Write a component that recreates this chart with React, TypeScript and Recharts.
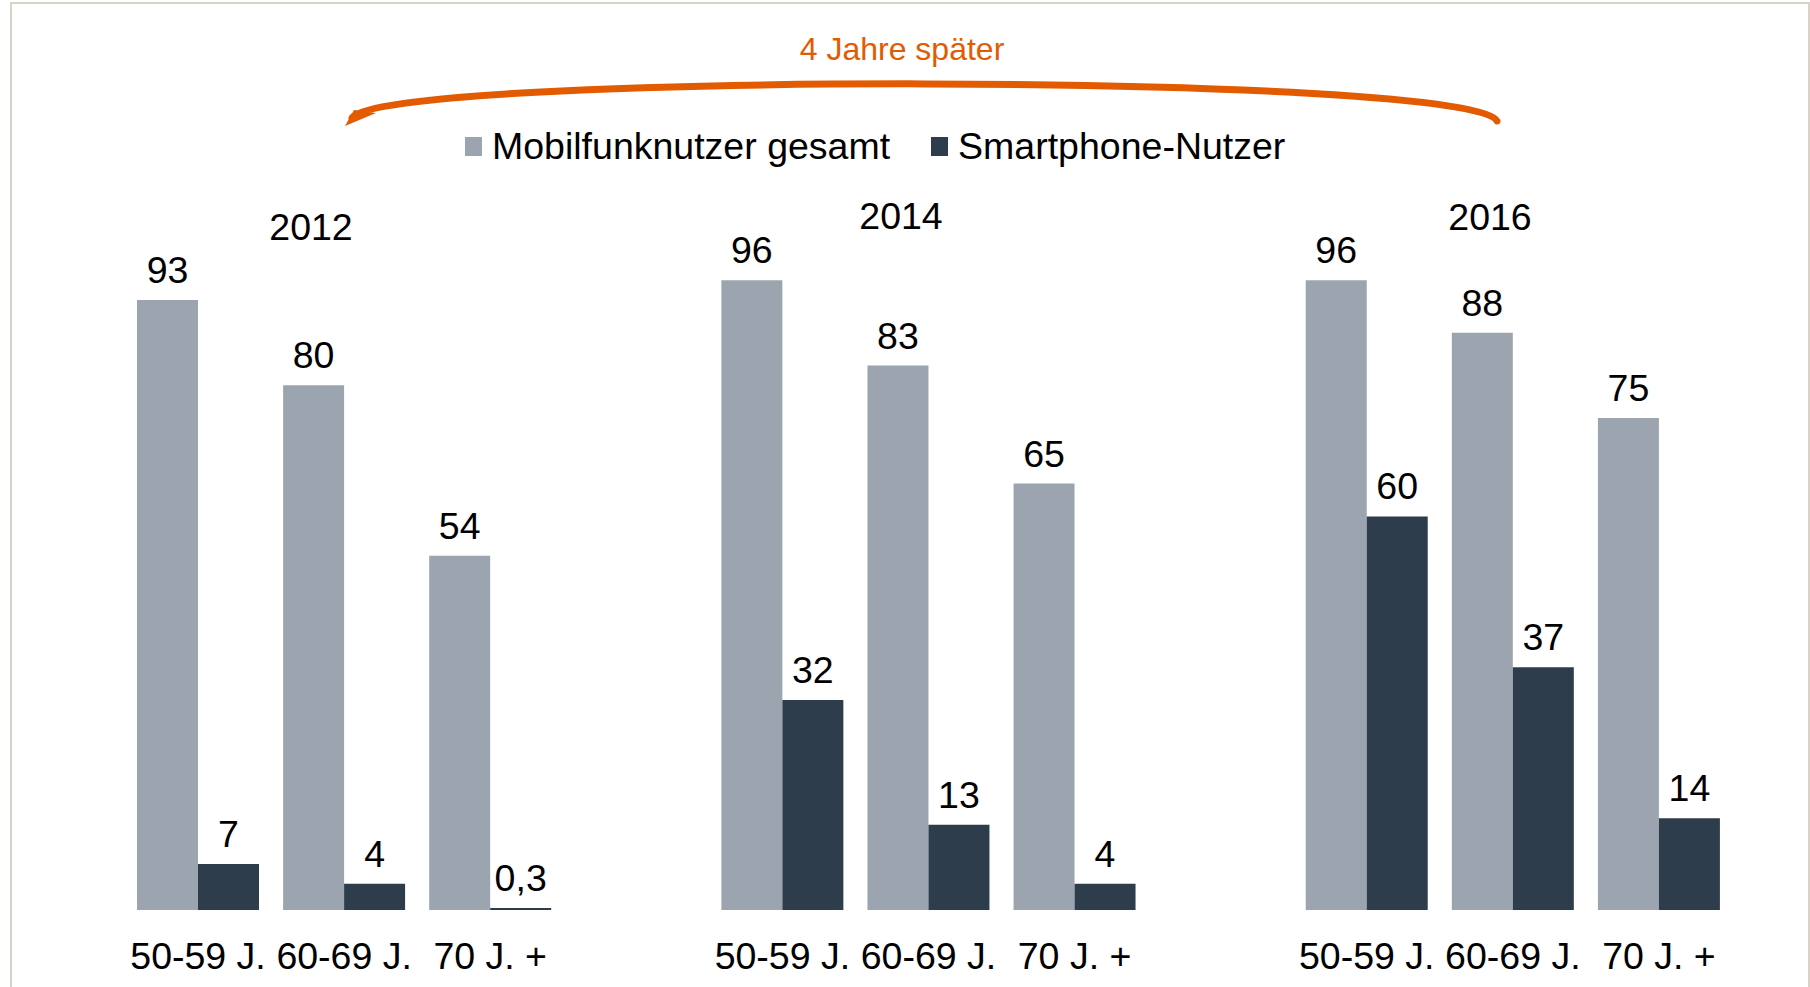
import React from "react";
import {
  BarChart,
  Bar,
  XAxis,
  YAxis,
  Legend,
  LabelList,
  Customized,
} from "recharts";

const FONT = "'Liberation Sans', Arial, sans-serif";
const FS = 37.5;
const GRAY = "#9ca5af";
const DARK = "#2e3d4c";
const ORANGE = "#e35b00";

// Data
const ageGroups = ["50-59 J.", "60-69 J.", "70 J. +"];
const years = ["2012", "2014", "2016"];
const mobilfunk2012 = [93, 80, 54];
const smartphone2012 = [7, 4, 0.3];
const mobilfunk2014 = [96, 83, 65];
const smartphone2014 = [32, 13, 4];
const mobilfunk2016 = [96, 88, 75];
const smartphone2016 = [60, 37, 14];

const mobilfunkByYear = [mobilfunk2012, mobilfunk2014, mobilfunk2016];
const smartphoneByYear = [smartphone2012, smartphone2014, smartphone2016];

// one empty slot between the year groups
const data: { label: string; gesamt?: number; smart?: number }[] = [];
years.forEach((_, yi) => {
  if (yi > 0) data.push({ label: "" });
  ageGroups.forEach((age, ai) => {
    data.push({
      label: age,
      gesamt: mobilfunkByYear[yi][ai],
      smart: smartphoneByYear[yi][ai],
    });
  });
});

const formatValue = (v: any) =>
  v === undefined || v === null ? "" : String(v).replace(".", ",");

// year captions and the "4 Jahre später" arc
const yearPos = [
  { x: 311, y: 240 },
  { x: 901, y: 229 },
  { x: 1490, y: 230 },
];

const Annotations = () => (
  <g>
    {years.map((y, i) => (
      <text
        key={y}
        x={yearPos[i].x}
        y={yearPos[i].y}
        textAnchor="middle"
        fontSize={FS}
        fontFamily={FONT}
        fill="#000"
      >
        {y}
      </text>
    ))}
    <text
      x={902}
      y={60}
      textAnchor="middle"
      fontSize={32}
      fontFamily={FONT}
      fill={ORANGE}
    >
      4 Jahre später
    </text>
    <path
      d="M 352 118 C 370 72, 1478 72, 1497 121"
      fill="none"
      stroke={ORANGE}
      strokeWidth={7}
      strokeLinecap="round"
    />
    <polygon points="345,126 354,110 376,113" fill={ORANGE} />
  </g>
);

const renderLegend = (props: any) => {
  const { payload } = props;
  return (
    <div style={{ display: "flex", alignItems: "center", fontFamily: FONT }}>
      {payload.map((entry: any, i: number) => (
        <div
          key={entry.value}
          style={{
            display: "flex",
            alignItems: "center",
            marginRight: i === 0 ? 41 : 0,
          }}
        >
          <span
            style={{
              display: "inline-block",
              width: 17,
              height: 19,
              background: entry.color,
              marginRight: 10,
            }}
          />
          <span style={{ fontSize: FS, color: "#000", lineHeight: "40px" }}>
            {entry.value}
          </span>
        </div>
      ))}
    </div>
  );
};

const App: React.FC = () => {
  return (
    <div
      style={{
        position: "absolute",
        left: 0,
        top: 0,
        width: 1810,
        height: 987,
        background: "#fff",
        overflow: "hidden",
      }}
    >
      <div
        style={{
          position: "absolute",
          left: 10,
          top: 2,
          width: 1800,
          height: 1000,
          boxSizing: "border-box",
          border: "2px solid #d8d2c8",
          borderBottom: "none",
        }}
      />
      <BarChart
        width={1810}
        height={987}
        data={data}
        margin={{ top: 254, right: 78, bottom: 17, left: 125 }}
        barGap={0}
        barSize={61}
        style={{ fontFamily: FONT }}
      >
        <XAxis
          dataKey="label"
          height={60}
          axisLine={false}
          tickLine={false}
          tickSize={0}
          tickMargin={32}
          interval={0}
          tick={{ fontSize: FS, fill: "#000", fontFamily: FONT }}
        />
        <YAxis hide domain={[0, 100]} />
        <Legend
          layout="horizontal"
          verticalAlign="middle"
          align="center"
          wrapperStyle={{ top: 126, left: 465, width: 900 }}
          content={renderLegend}
        />
        <Bar
          dataKey="gesamt"
          name="Mobilfunknutzer gesamt"
          fill={GRAY}
          isAnimationActive={false}
        >
          <LabelList
            dataKey="gesamt"
            position="top"
            offset={17}
            formatter={formatValue}
            style={{ fontSize: FS, fill: "#000", fontFamily: FONT }}
          />
        </Bar>
        <Bar
          dataKey="smart"
          name="Smartphone-Nutzer"
          fill={DARK}
          isAnimationActive={false}
        >
          <LabelList
            dataKey="smart"
            position="top"
            offset={17}
            formatter={formatValue}
            style={{ fontSize: FS, fill: "#000", fontFamily: FONT }}
          />
        </Bar>
        <Customized component={Annotations} />
      </BarChart>
    </div>
  );
};

export default App;
